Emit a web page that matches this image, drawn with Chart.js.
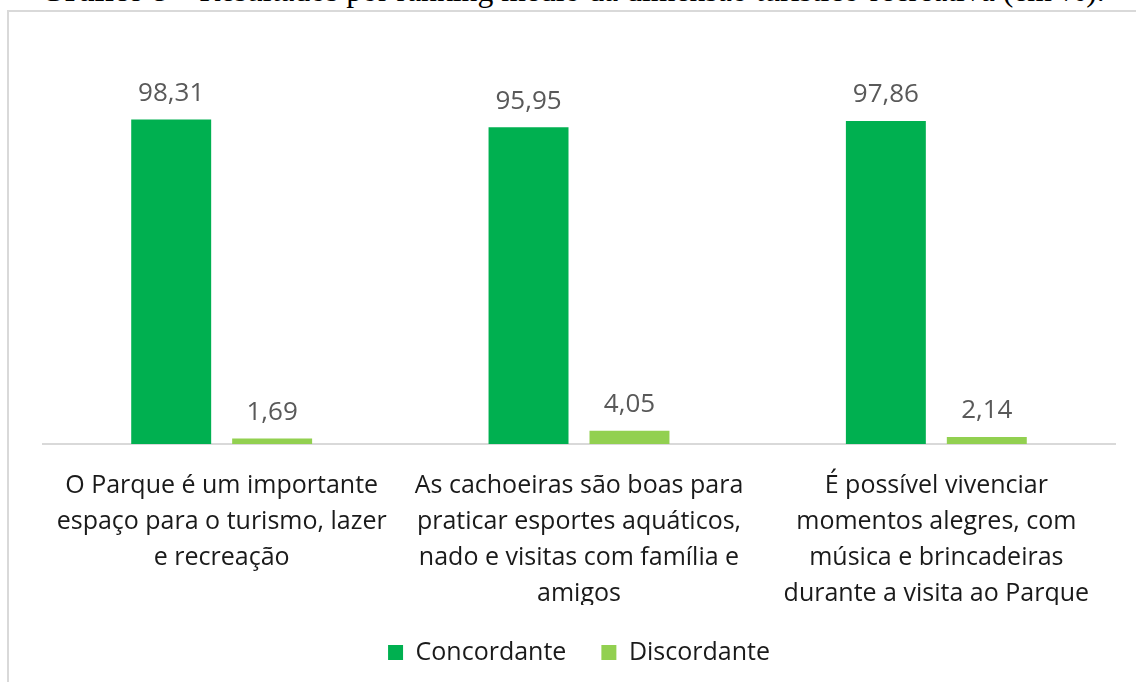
<!DOCTYPE html>
<html>
<head>
<meta charset="utf-8">
<script src="https://cdn.jsdelivr.net/npm/chart.js@4.4.0/dist/chart.umd.min.js"></script>
<style>
  html, body { margin: 0; padding: 0; background: #fff; }
  body { width: 1136px; height: 682px; position: relative; overflow: hidden; }
  #frame { position: absolute; left: 7px; top: 10px; width: 1200px; height: 800px; border: 2px solid #d9d9d9; box-sizing: border-box; }
  #title { position: absolute; left: 40px; top: -20px; white-space: nowrap; font-family: "Liberation Serif", "Times New Roman", serif; font-size: 28px; line-height: 28px; color: #000; }
  #title b { font-weight: bold; }
  #wrap { position: absolute; left: 0; top: 0; width: 1136px; height: 682px; }
</style>
</head>
<body>
<div id="frame"></div>
<div id="title"><b>Gráfico 8 –</b> Resultados por ranking médio da dimensão turístico-recreativa (em %).</div>
<div id="wrap"><canvas id="c" width="1136" height="682"></canvas></div>
<script>
const categories = [
  ["O Parque é um importante", "espaço para o turismo, lazer", "e recreação"],
  ["As cachoeiras são boas para", "praticar esportes aquáticos,", "nado e visitas com família e", "amigos"],
  ["É possível vivenciar", "momentos alegres, com", "música e brincadeiras", "durante a visita ao Parque"]
];
const seriesNames = ["Concordante", "Discordante"];
const concordante = [98.31, 95.95, 97.86];
const discordante = [1.69, 4.05, 2.14];

// fit title width
(function(){
  const t = document.getElementById('title');
  const w = t.getBoundingClientRect().width;
  const target = 1065;
  const fs = 28 * target / w;
  t.style.fontSize = fs + 'px';
  t.style.lineHeight = fs + 'px';
  t.style.top = (3 - fs * 0.89) + 'px';
})();

const FONT = "'Open Sans', sans-serif";

const labelPlugin = {
  id: 'valueLabels',
  afterDatasetsDraw(chart) {
    const ctx = chart.ctx;
    ctx.save();
    ctx.font = "26px " + FONT;
    ctx.fillStyle = '#595959';
    ctx.textAlign = 'center';
    ctx.textBaseline = 'middle';
    chart.data.datasets.forEach((ds, i) => {
      const meta = chart.getDatasetMeta(i);
      meta.data.forEach((bar, j) => {
        const txt = ds.data[j].toFixed(2).replace('.', ',');
        ctx.fillText(txt, bar.x, bar.y - 26);
      });
    });
    ctx.restore();
  }
};

new Chart(document.getElementById('c'), {
  type: 'bar',
  data: {
    labels: categories,
    datasets: [
      { label: seriesNames[0], data: concordante, backgroundColor: '#00B050', borderWidth: 0 },
      { label: seriesNames[1], data: discordante, backgroundColor: '#92D050', borderWidth: 0 }
    ]
  },
  options: {
    responsive: false,
    animation: false,
    devicePixelRatio: 1,
    categoryPercentage: 0.565,
    barPercentage: 0.792,
    layout: { padding: { left: 43, right: 21, top: 114, bottom: 17 } },
    plugins: {
      tooltip: { enabled: false },
      legend: {
        display: true,
        position: 'bottom',
        maxHeight: 60,
        labels: {
          boxWidth: 15, boxHeight: 15, padding: 35,
          color: '#1a1a1a',
          font: { family: FONT, size: 25 }
        }
      }
    },
    scales: {
      x: {
        grid: { display: false, drawTicks: false },
        border: { display: true, color: '#d9d9d9', width: 2 },
        ticks: {
          color: '#1a1a1a',
          padding: 24,
          maxRotation: 0,
          autoSkip: false,
          font: { family: FONT, size: 25, lineHeight: 1.44 }
        },
        afterFit(scale) { scale.height = 161; }
      },
      y: {
        display: false,
        min: 0, max: 100,
        beginAtZero: true
      }
    }
  },
  plugins: [labelPlugin]
});
</script>
</body>
</html>
